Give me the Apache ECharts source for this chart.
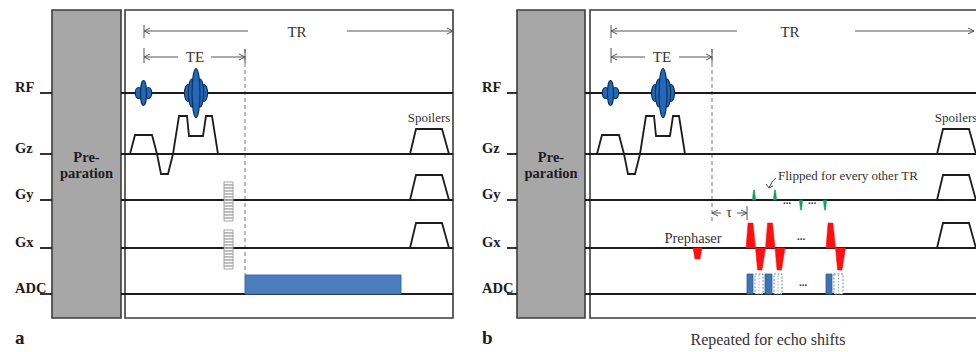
<!DOCTYPE html>
<html>
<head>
<meta charset="utf-8">
<script src="https://cdn.jsdelivr.net/npm/echarts@6.0.0/dist/echarts.min.js"></script>
<style>
html,body{margin:0;padding:0;background:#ffffff;}
#chart{width:976px;height:352px;}
</style>
</head>
<body>
<div id="chart"></div>
<script>
// ---------------- diagram data (axis units: x = time, y = vertical; amplitudes relative to channel baseline) ----------------
const channels = ['RF', 'Gz', 'Gy', 'Gx', 'ADC'];
const channelY = [93, 154, 200, 248, 294];
const panelLetters = ['a', 'b'];
const panelShift = [0, 467];
const labelLeft = [15, 482];
const tickStart = [40, 507];
const prepBoxes = [[52, 121], [517, 585]];
const seqBoxes = [[125, 453], [590, 995]];
const boxSpan = [10, 318];
const rfSmallTimes = [143.5, 610.5];
const rfLargeTimes = [196, 663];
const rfSmallLobes = [[-5, 3.2, 5.5], [5, 3.2, 5.5], [0, 3, 12.5]];
const rfLargeLobes = [[-8, 3.5, 8.5], [8, 3.5, 8.5], [-4, 3.6, 14], [4, 3.6, 14], [0, 4, 24.5]];
const gzSliceWave = [[130,0],[135,19],[152,19],[157,0],[161,-20],[168,-20],[173,0],[179,38],[187,38],[189,18],[203,18],[206,38],[212,38],[218,0]];
const spoilerStarts = [410, 937];
const spoilerShape = [[0,0],[6,25],[32,25],[39,0]];
const spoilerChannels = ['Gz', 'Gy', 'Gx'];
const phaseLadderX = [224, 233];
const phaseLadderLevels = [18,15,12,9,6,3,0,-3,-6,-9,-12,-15,-18];
const phaseLadderChannels = ['Gy', 'Gx'];
const adcWindowA = [245, 401];
const adcHeight = 19;
const echoTimeMark = [245, 712];
const prephaserWave = [[693,0],[695,-11],[700,-11],[702,0]];
const readoutStarts = [746, 765.5, 826];
const readoutPosLobe = [[0,0],[2,25],[7,25],[9.5,0]];
const readoutNegLobe = [[9.5,0],[11.5,-22],[16,-22],[19.5,0]];
const blipTimes = [754, 775, 801, 825];
const blipAmps = [10, 10, -10, -10];
const adcEchoFilled = [[747,753],[765,772],[826,832]];
const adcEchoShifted = [[755,763],[774,782],[834,843]];
const adcEchoHeight = 20;
const trArrows = [{y:31, x0:144, x1:453, gap:[248,347], lx:297}, {y:31, x0:611, x1:974, gap:[737,855], lx:790}];
const teArrows = [{y:57, x0:144, x1:245, gap:[178,211], lx:195}, {y:57, x0:611, x1:712, gap:[645,679], lx:662}];
const tauArrow = {y:213, x0:712, x1:747, gap:[721,737], lx:729};
const spoilerLabelX = [429, 956];
const spoilerLabelY = 117;
const ellipsisMarks = [[787,'Gy',0],[812,'Gy',0],[801,'Gx',-12],[803,'ADC',-12]];

// ---------------- primitives built from the data ----------------
const INK = '#1c1c1c';
const SERIF = '"Liberation Serif","Times New Roman",serif';
const prims = [];
const chY = name => channelY[channels.indexOf(name)];
const wave = (pts, dx, base) => pts.map(p => [p[0] + dx, base - p[1]]);
function pline(pts, style) { prims.push({t:'poly', closed:false, pts, style:Object.assign({fill:'none', stroke:INK, lineWidth:1.8, lineJoin:'miter'}, style || {})}); }
function pgon(pts, style) { prims.push({t:'poly', closed:true, pts, style}); }
function rect(x0, y0, x1, y1, style) { prims.push({t:'rect', x0, y0, x1, y1, style}); }
function ell(c, r, style) { prims.push({t:'ellipse', c, r, style}); }
function txt(p, text, font, align, fill) { prims.push({t:'text', p, text, font, align: align || 'center', fill: fill || INK}); }

function timingArrow(a, tickL, tickR) {
  const st = {stroke:'#555', lineWidth:1};
  pline([[a.x0, a.y], [a.gap[0], a.y]], st);
  pline([[a.gap[1], a.y], [a.x1, a.y]], st);
  pline([[a.x0 + 6, a.y - 3], [a.x0, a.y], [a.x0 + 6, a.y + 3]], st);
  pline([[a.x1 - 6, a.y - 3], [a.x1, a.y], [a.x1 - 6, a.y + 3]], st);
  if (tickL) pline([[a.x0, a.y + tickL[0]], [a.x0, a.y + tickL[1]]], st);
  if (tickR) pline([[a.x1, a.y + tickR[0]], [a.x1, a.y + tickR[1]]], st);
}

for (let k = 0; k < 2; k++) {
  const dx = panelShift[k];
  // boxes
  rect(prepBoxes[k][0], boxSpan[0], prepBoxes[k][1], boxSpan[1], {fill:'#a7a7a7', stroke:'#3d3d3d', lineWidth:1.6});
  rect(seqBoxes[k][0], boxSpan[0], seqBoxes[k][1], boxSpan[1], {fill:'#ffffff', stroke:'#3d3d3d', lineWidth:1.6});
  // dashed echo-time marker
  pline([[echoTimeMark[k], 49], [echoTimeMark[k], k === 0 ? 275 : 222]], {stroke:'#777', lineWidth:1, lineDash:[4,3]});
  // channel baselines
  channels.forEach((c, i) => {
    pline([[tickStart[k], channelY[i]], [prepBoxes[k][0], channelY[i]]]);
    pline([[prepBoxes[k][1], channelY[i]], [Math.min(seqBoxes[k][1], 976), channelY[i]]]);
    txt([labelLeft[k], channelY[i] - 6.5], c, 'bold 14.5px ' + SERIF, 'left');
  });
  // preparation label
  const pc = (prepBoxes[k][0] + prepBoxes[k][1]) / 2;
  txt([pc, 157], 'Pre-', 'bold 14.5px ' + SERIF);
  txt([pc, 173], 'paration', 'bold 14.5px ' + SERIF);
  // RF pulses
  const rfStyle = {fill:'#2169bd', stroke:'#0f2e57', lineWidth:1.2};
  rfSmallLobes.forEach(l => ell([rfSmallTimes[k] + l[0], chY('RF')], [l[1], l[2]], rfStyle));
  rfLargeLobes.forEach(l => ell([rfLargeTimes[k] + l[0], chY('RF')], [l[1], l[2]], rfStyle));
  // slice gradient
  pline(wave(gzSliceWave, dx, chY('Gz')));
  // spoilers
  spoilerChannels.forEach(c => pline(wave(spoilerShape, spoilerStarts[k], chY(c))));
  txt([spoilerLabelX[k], spoilerLabelY], 'Spoilers', '13px ' + SERIF, 'center', '#333');
  // timing arrows
  timingArrow(trArrows[k], [-6, 7], null);
  timingArrow(teArrows[k], [-9, 6], [-8, 6]);
  txt([trArrows[k].lx, trArrows[k].y + 1], 'TR', '15px ' + SERIF, 'center', '#333');
  txt([teArrows[k].lx, teArrows[k].y], 'TE', '15px ' + SERIF, 'center', '#333');
  // panel letter
  txt([labelLeft[k], 337], panelLetters[k], 'bold 19px ' + SERIF, 'left');
}

// panel a: phase-encode ladder and ADC window
phaseLadderChannels.forEach(c => {
  phaseLadderLevels.forEach(lv => {
    rect(phaseLadderX[0], chY(c) - lv, phaseLadderX[1], chY(c) - lv + 3, {fill:'rgba(255,255,255,0.55)', stroke:'#9a9a9a', lineWidth:0.9});
  });
});
rect(adcWindowA[0], chY('ADC') - adcHeight, adcWindowA[1], chY('ADC'), {fill:'#4a7dbb', stroke:'#3a6aa5', lineWidth:1});

// panel b: prephaser, EPI readout, blips, ADC echoes
const RED = {fill:'#ff1010', stroke:'#ff1010', lineWidth:0.5};
pgon(wave(prephaserWave, 0, chY('Gx')), RED);
readoutStarts.forEach(s => {
  pgon(wave(readoutPosLobe, s, chY('Gx')), RED);
  pgon(wave(readoutNegLobe, s, chY('Gx')), RED);
});
blipTimes.forEach((t, i) => {
  const a = blipAmps[i];
  pgon(wave([[-1.6,0],[-0.5,a],[0.5,a],[1.6,0]], t, chY('Gy')), {fill:'#13a050', stroke:'#13a050', lineWidth:0.6});
});
adcEchoFilled.forEach(w => rect(w[0], chY('ADC') - adcEchoHeight, w[1], chY('ADC'), {fill:'#3f73b3', stroke:'#2f5f9a', lineWidth:0.8}));
adcEchoShifted.forEach(w => {
  rect(w[0], chY('ADC') - adcEchoHeight, w[1], chY('ADC'), {fill:'#ffffff', stroke:'#5a7fae', lineWidth:0.9, lineDash:[2,1.5]});
  pline([[(w[0] + w[1]) / 2, chY('ADC') - adcEchoHeight + 1], [(w[0] + w[1]) / 2, chY('ADC')]], {stroke:'#8a9bb5', lineWidth:0.8, lineDash:[1.5,1.5]});
});
ellipsisMarks.forEach(m => txt([m[0], chY(m[1]) + m[2]], '...', 'bold 11px ' + SERIF, 'center', '#333'));
timingArrow(tauArrow, null, [-7, 7]);
txt([tauArrow.lx, tauArrow.y - 1], 'τ', '14px ' + SERIF, 'center', '#333');
txt([693, 238], 'Prephaser', '14.5px ' + SERIF, 'center', '#333');
txt([778, 175], 'Flipped for every other TR', '13px ' + SERIF, 'left', '#333');
pline([[776, 178], [772, 182], [769, 188]], {stroke:'#444', lineWidth:1});
pline([[766, 184], [769, 188], [773, 186]], {stroke:'#444', lineWidth:1});
txt([768, 339], 'Repeated for echo shifts', '16px ' + SERIF, 'center', '#333');

// ---------------- chart ----------------
function renderPrim(params, api) {
  const d = prims[params.dataIndex];
  if (d.t === 'poly') {
    return {type: d.closed ? 'polygon' : 'polyline', shape: {points: d.pts.map(p => api.coord(p))}, style: d.style};
  }
  if (d.t === 'rect') {
    const a = api.coord([d.x0, d.y0]), b = api.coord([d.x1, d.y1]);
    return {type:'rect', shape:{x:Math.min(a[0], b[0]), y:Math.min(a[1], b[1]), width:Math.abs(b[0] - a[0]), height:Math.abs(b[1] - a[1])}, style: d.style};
  }
  if (d.t === 'ellipse') {
    const c = api.coord(d.c), s = api.size([d.r[0], d.r[1]]);
    return {type:'ellipse', shape:{cx:c[0], cy:c[1], rx:s[0], ry:s[1]}, style: d.style};
  }
  const c = api.coord(d.p);
  return {type:'text', x:c[0], y:c[1], style:{text:d.text, font:d.font, fill:d.fill, align:d.align, verticalAlign:'middle'}};
}

const chart = echarts.init(document.getElementById('chart'), null, {renderer:'svg'});
chart.setOption({
  animation: false,
  backgroundColor: '#ffffff',
  grid: {left:0, right:0, top:0, bottom:0},
  xAxis: {type:'value', min:0, max:976, show:false},
  yAxis: {type:'value', min:0, max:352, inverse:true, show:false},
  series: [{
    type: 'custom',
    coordinateSystem: 'cartesian2d',
    silent: true,
    clip: true,
    renderItem: renderPrim,
    data: prims.map((_, i) => [i, 0])
  }]
});
</script>
</body>
</html>
